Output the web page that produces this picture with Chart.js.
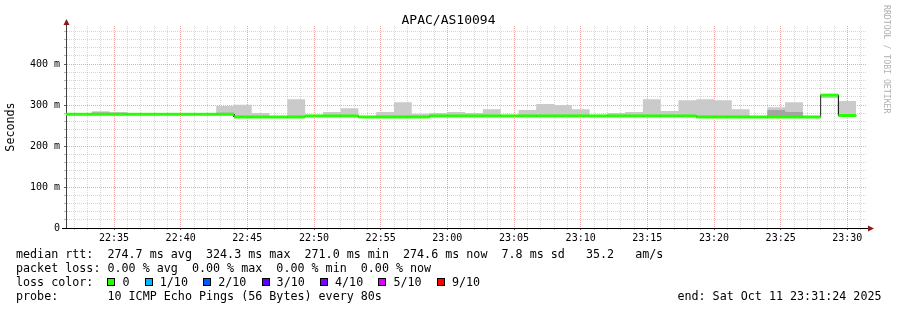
<!DOCTYPE html>
<html><head><meta charset="utf-8">
<script src="https://cdn.jsdelivr.net/npm/chart.js@4.4.1/dist/chart.umd.min.js"></script>
<style>html,body{margin:0;padding:0;background:#fff;}canvas{display:block;}</style>
</head><body>
<canvas id="c" width="897" height="310"></canvas>
<script>
// ---------- data ----------
const graphTitle = 'APAC/AS10094';
const yAxisTitle = 'Seconds';
const graphStart = '22:31:24';
const graphEnd = '23:31:24';
const stepEnds = [
  '22:32:00','22:33:20','22:34:40','22:36:00','22:37:20','22:38:40','22:40:00','22:41:20','22:42:40','22:44:00',
  '22:45:20','22:46:40','22:48:00','22:49:20','22:50:40','22:52:00','22:53:20','22:54:40','22:56:00','22:57:20',
  '22:58:40','23:00:00','23:01:20','23:02:40','23:04:00','23:05:20','23:06:40','23:08:00','23:09:20','23:10:40',
  '23:12:00','23:13:20','23:14:40','23:16:00','23:17:20','23:18:40','23:20:00','23:21:20','23:22:40','23:24:00',
  '23:25:20','23:26:40','23:28:00','23:29:20','23:30:40'
];
const medianRtt = [
  277.5,277.5,277.5,277.5,277.5,277.5,277.5,277.5,277.5,277.5,
  271,271,271,271,273.5,273.5,273.5,271,271,271,
  271,273.5,273.5,273.5,273.5,273.5,273.5,273.5,273.5,273.5,
  273.5,273.5,273.5,273.5,273.5,273.5,271,271,271,271,
  271,271,271,324.3,274.6
];
const smokeMax = [
  279,279,285,283,279,279,279,279,279,298,
  301,280.5,272.5,314.5,275,283,292.5,272.5,283,307,
  279,280.5,283,280.5,290,275,288,302.5,300,290,
  275,280.5,283,314.5,285.5,312,314.5,312,290,272.5,
  295,307,272.5,326,310
];
const smokeMin = [
  276,276,276,276,276,276,276,276,276,276,
  270,270,270,270,272.5,272.5,272.5,270,270,270,
  270,272.5,272.5,272.5,272.5,272.5,272.5,272.5,272.5,272.5,
  272.5,272.5,272.5,272.5,272.5,272.5,270,270,270,270,
  270,270,270,317,273.5
];
const innerMax = [
  278.5,278.5,282,278.5,278.5,278.5,278.5,278.5,278.5,281,
  272,272,272,272,274.5,274.5,274.5,272,272,272,
  272,274.5,274.5,274.5,274.5,274.5,274.5,274.5,274.5,274.5,
  274.5,274.5,274.5,274.5,274.5,274.5,272,272,272,272,
  288,283,272,325.5,275.5
];
const innerMin = [
  276,276,276,276,276,276,276,276,276,276,
  270,270,270,270,272.5,272.5,272.5,270,270,270,
  270,272.5,272.5,272.5,272.5,272.5,272.5,272.5,272.5,272.5,
  272.5,272.5,272.5,272.5,272.5,272.5,270,270,270,270,
  270,270,270,322,273.5
];
const xTickLabels = ['22:35','22:40','22:45','22:50','22:55','23:00','23:05','23:10','23:15','23:20','23:25','23:30'];
const yLabelValues = [0, 100, 200, 300, 400];
const yLabelTexts = ['0', '100 m', '200 m', '300 m', '400 m'];
const lossLabels = ['0', '1/10', '2/10', '3/10', '4/10', '5/10', '9/10'];
const lossColors = ['#26ff00', '#00b8ff', '#0059ff', '#5e00ff', '#7e00ff', '#dd00ff', '#ff0000'];
const legendRtt = 'median rtt:  274.7 ms avg  324.3 ms max  271.0 ms min  274.6 ms now  7.8 ms sd   35.2   am/s';
const legendLoss = 'packet loss: 0.00 % avg  0.00 % max  0.00 % min  0.00 % now';
const legendColorTitle = 'loss color:';
const legendProbe = 'probe:       10 ICMP Echo Pings (56 Bytes) every 80s';
const legendEnd = 'end: Sat Oct 11 23:31:24 2025';
const watermark = 'RRDTOOL / TOBI OETIKER';

// ---------- helpers ----------
const MONO = '"DejaVu Sans Mono", "Liberation Mono", monospace';
const GREEN = '#26ff00';
const GRID = 'rgba(140,140,140,0.35)';
const MGRID = 'rgba(230,80,80,0.5)';
const toSec = s => { const p = s.split(':').map(Number); return p[0]*3600 + p[1]*60 + (p[2] || 0); };
const pad2 = n => String(n).padStart(2, '0');
const fmtHM = v => pad2(Math.floor(v/3600)) + ':' + pad2(Math.floor((v%3600)/60));
const starts = [graphStart].concat(stepEnds.slice(0, -1)).map(toSec);
const ends = stepEnds.map(toSec);
function stepPoints(vals) {
  const pts = [];
  vals.forEach((v, i) => { pts.push({x: starts[i], y: v}); pts.push({x: ends[i], y: v}); });
  return pts;
}

const extras = {
  id: 'rrdExtras',
  afterDraw(chart) {
    const {ctx, chartArea: a} = chart;
    ctx.save();
    // title
    ctx.font = '13px ' + MONO;
    ctx.fillStyle = '#000';
    ctx.textAlign = 'center';
    ctx.textBaseline = 'alphabetic';
    ctx.fillText(graphTitle, 448.5, 23.5);
    const yb = Math.round(a.bottom) + 0.5;
    const xl = Math.round(a.left) + 0.5;
    // axis extensions
    ctx.strokeStyle = '#000'; ctx.lineWidth = 1;
    ctx.beginPath(); ctx.moveTo(a.left - 4, yb); ctx.lineTo(a.right + 3, yb); ctx.stroke();
    ctx.strokeStyle = '#404040';
    ctx.beginPath(); ctx.moveTo(xl, a.top); ctx.lineTo(xl, a.top - 2); ctx.stroke();
    // arrows
    ctx.fillStyle = '#8b1a1a';
    ctx.beginPath(); ctx.moveTo(a.right + 2, yb - 3); ctx.lineTo(a.right + 2, yb + 3); ctx.lineTo(a.right + 8, yb); ctx.closePath(); ctx.fill();
    ctx.beginPath(); ctx.moveTo(xl - 3, a.top - 1); ctx.lineTo(xl + 3, a.top - 1); ctx.lineTo(xl, a.top - 7); ctx.closePath(); ctx.fill();
    // watermark
    ctx.save();
    ctx.translate(886, 5);
    ctx.rotate(Math.PI / 2);
    ctx.font = '8.2px ' + MONO;
    ctx.fillStyle = '#b0b0b0';
    ctx.textBaseline = 'middle';
    ctx.textAlign = 'left';
    ctx.fillText(watermark, 0, 0);
    ctx.restore();
    // legend
    ctx.font = '11.7px ' + MONO;
    ctx.fillStyle = '#000';
    ctx.textBaseline = 'alphabetic';
    ctx.textAlign = 'left';
    const cw = ctx.measureText('0').width;
    const rows = [257.5, 271.8, 286.1, 300.4];
    ctx.fillText(legendRtt, 16, rows[0]);
    ctx.fillText(legendLoss, 16, rows[1]);
    ctx.fillText(legendColorTitle, 16, rows[2]);
    let x = 16 + 13 * cw;
    lossLabels.forEach((lab, i) => {
      const bx = Math.round(x);
      ctx.fillStyle = lossColors[i];
      ctx.fillRect(bx, Math.round(rows[2]) - 8, 8, 8);
      ctx.strokeStyle = '#000';
      ctx.strokeRect(bx + 0.5, Math.round(rows[2]) - 7.5, 7, 7);
      ctx.fillStyle = '#000';
      ctx.fillText(lab, x + 15, rows[2]);
      x += 15 + (lab.length + 2) * cw + 1.2;
    });
    ctx.fillText(legendProbe, 16, rows[3]);
    ctx.textAlign = 'right';
    ctx.fillText(legendEnd, 881.5, rows[3]);
    ctx.restore();
  }
};

const ptOpts = {pointRadius: 0, pointHoverRadius: 0, tension: 0};
new Chart(document.getElementById('c'), {
  type: 'line',
  data: {
    datasets: [
      Object.assign({label: 'median (0 loss)', data: stepPoints(medianRtt), borderColor: GREEN, borderWidth: 3,
        borderCapStyle: 'butt', fill: false,
        segment: {borderColor: c => c.p0.parsed.x === c.p1.parsed.x ? 'rgba(0,0,0,0)' : GREEN}}, ptOpts),
      Object.assign({label: 'median', data: stepPoints(medianRtt), borderColor: '#202020', borderWidth: 1, fill: false}, ptOpts),
      Object.assign({label: 'smoke inner hi', data: stepPoints(innerMax), borderWidth: 0, borderColor: 'rgba(0,0,0,0)', backgroundColor: '#a4a4a4', fill: 3}, ptOpts),
      Object.assign({label: 'smoke inner lo', data: stepPoints(innerMin), borderWidth: 0, borderColor: 'rgba(0,0,0,0)', fill: false}, ptOpts),
      Object.assign({label: 'smoke outer hi', data: stepPoints(smokeMax), borderWidth: 0, borderColor: 'rgba(0,0,0,0)', backgroundColor: '#cacaca', fill: 5}, ptOpts),
      Object.assign({label: 'smoke outer lo', data: stepPoints(smokeMin), borderWidth: 0, borderColor: 'rgba(0,0,0,0)', fill: false}, ptOpts)
    ]
  },
  options: {
    responsive: false,
    devicePixelRatio: 1,
    animation: false,
    events: [],
    layout: {padding: {left: 0, right: 31, top: 26, bottom: 62}},
    plugins: {
      legend: {display: false},
      tooltip: {enabled: false},
      title: {display: false}
    },
    scales: {
      x: {
        type: 'linear', min: toSec(graphStart), max: toSec(graphEnd), bounds: 'data', z: 1,
        afterBuildTicks: s => { const t = []; for (let v = Math.ceil(s.min/60)*60; v < s.max; v += 60) t.push({value: v}); s.ticks = t; },
        afterFit: s => { s.height = 20; },
        ticks: {autoSkip: false, maxRotation: 0, minRotation: 0, padding: 2, color: '#000',
          font: {family: MONO, size: 10},
          callback: v => { const l = fmtHM(v); return xTickLabels.includes(l) ? l : ''; }},
        grid: {color: c => (c.tick && c.tick.value % 300 === 0) ? MGRID : GRID, lineWidth: 1, tickLength: 2,
          tickColor: c => (c.tick && c.tick.value % 300 === 0) ? '#606060' : '#b8b8b8'},
        border: {display: true, color: '#000', width: 1, dash: [1, 1]}
      },
      y: {
        type: 'linear', min: 0, max: 493, bounds: 'data', z: 1,
        afterBuildTicks: s => { const t = []; for (let v = 0; v <= s.max; v += 20) t.push({value: v}); s.ticks = t; },
        afterFit: s => { s.width = 66; },
        ticks: {autoSkip: false, padding: 4, color: '#000', font: {family: MONO, size: 10},
          callback: v => { const i = yLabelValues.indexOf(v); return i >= 0 ? yLabelTexts[i] : ''; }},
        grid: {color: c => !c.tick || c.tick.value === 0 ? 'rgba(0,0,0,0)' : (c.tick.value % 100 === 0 ? MGRID : GRID),
          lineWidth: 1, tickLength: 2,
          tickColor: c => (c.tick && c.tick.value % 100 === 0) ? '#606060' : '#b8b8b8'},
        border: {display: true, color: '#404040', width: 1, dash: [1, 1]},
        title: {display: true, text: yAxisTitle, color: '#000', font: {family: MONO, size: 11.7}, padding: {top: 4, bottom: 0}}
      }
    }
  },
  plugins: [extras]
});
</script>
</body></html>
